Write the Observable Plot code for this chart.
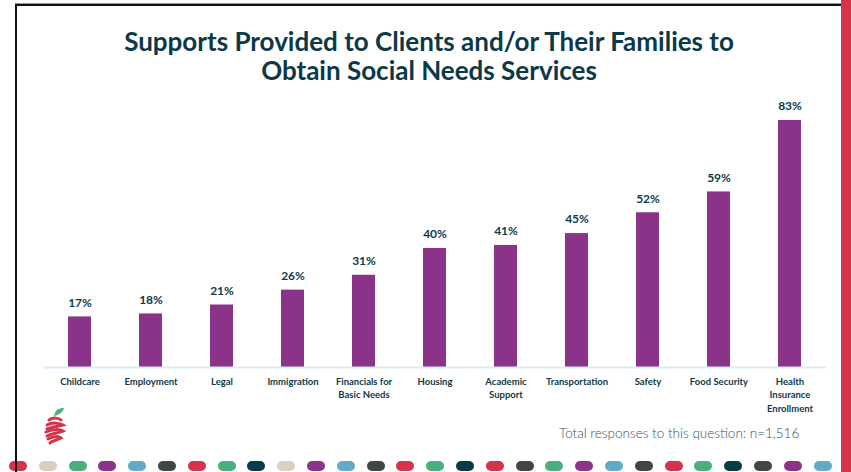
<!DOCTYPE html>
<html>
<head>
<meta charset="utf-8">
<script src="https://cdn.jsdelivr.net/npm/d3@7"></script>
<script src="https://cdn.jsdelivr.net/npm/@observablehq/plot@0.6"></script>
<style>
  html, body { margin: 0; padding: 0; background: #fff; }
  #slide { position: relative; width: 851px; height: 472px; overflow: hidden; background: #fff; font-family: Lato, "Open Sans", sans-serif; }
  #topline { position: absolute; left: 15px; top: 4px; width: 826px; height: 2px; background: #111; box-shadow: 0 -1px 0 #999; }
  #leftline { position: absolute; left: 15px; top: 4px; width: 2px; height: 468px; background: #111; }
  #redstrip { position: absolute; left: 841px; top: 0; width: 10px; height: 472px; background: #d3344a; }
  #title { position: absolute; left: 17px; width: 824px; top: 27px; text-align: center; font-weight: 700; font-size: 26px; line-height: 29px; color: #0c3848; white-space: nowrap; }
  #chart { position: absolute; left: 0; top: 90px; }
  #footer { position: absolute; left: 559px; top: 425px; font-size: 13.5px; font-weight: 300; color: #2f5361; white-space: nowrap; }
  .dot { position: absolute; top: 461px; width: 18px; height: 10px; border-radius: 5px; }
  #logo { position: absolute; left: 40px; top: 405px; }
</style>
</head>
<body>
<div id="slide">
  <div id="title">Supports Provided to Clients and/or Their Families to<br>Obtain Social Needs Services</div>
  <div id="chart"></div>
  <div id="footer">Total responses to this question: n=1,516</div>
  <svg id="logo" width="30" height="45" viewBox="0 0 30 45">
    <path d="M14 11 C15 5 19 3 24 3 C22 8 19 10 14 11 Z" fill="#4aaf7d"/>
    <g fill="none" stroke="#d3344a" stroke-width="3" stroke-linecap="round">
      <path d="M9 15 C13 12 19 13 21 15"/>
      <path d="M7 20 C12 17 20 18 23 20 C18 21 12 22 7 24"/>
      <path d="M6 27 C12 24 20 24 23 26 C18 28 11 29 7 31"/>
      <path d="M8 34 C13 31 19 31 21 33 C17 35 12 36 10 38"/>
    </g>
  </svg>
  <div id="topline"></div>
  <div id="leftline"></div>
  <div id="redstrip"></div>
</div>
<script>
const categories = ["Childcare", "Employment", "Legal", "Immigration", "Financials for\nBasic Needs", "Housing", "Academic\nSupport", "Transportation", "Safety", "Food Security", "Health\nInsurance\nEnrollment"];
const values = [17, 18, 21, 26, 31, 40, 41, 45, 52, 59, 83];
const dotColors = ["#d3344a", "#d9d0c1", "#4aaf7d", "#8a3389", "#63a9c8", "#404548", "#d3344a", "#4aaf7d", "#0b3a4b", "#d9d0c1", "#8a3389", "#63a9c8", "#404548", "#d3344a", "#4aaf7d", "#0b3a4b", "#d3344a", "#404548", "#4aaf7d", "#8a3389", "#63a9c8", "#404548", "#d3344a", "#4aaf7d", "#0b3a4b", "#404548", "#8a3389", "#63a9c8"];

const data = categories.map((c, i) => ({category: c, value: values[i]}));

const chart = Plot.plot({
  width: 851,
  height: 340,
  marginLeft: 44,
  marginRight: 25,
  marginTop: 0,
  marginBottom: 63,
  style: {fontFamily: "Lato, 'Open Sans', sans-serif", background: "transparent", overflow: "visible"},
  x: {domain: categories, paddingInner: 0.675, paddingOuter: 0.3375, label: null},
  y: {domain: [0, 83], range: [277, 30], axis: null},
  marks: [
    Plot.barY(data, {x: "category", y: "value", fill: "#8a3389"}),
    Plot.ruleY([0], {stroke: "#d8eef8", strokeWidth: 2}),
    Plot.text(data, {x: "category", y: "value", text: d => d.value + "%", dy: -14, fontWeight: 700, fontSize: 12, fill: "#0e3a4a"}),
    Plot.axisX({tickSize: 0, tickPadding: 8, fontSize: 9.5, fontWeight: 700, fill: "#0e3a4a", lineHeight: 1.4, label: null})
  ]
});
document.getElementById("chart").appendChild(chart);

const slide = document.getElementById("slide");
dotColors.forEach((c, i) => {
  const d = document.createElement("div");
  d.className = "dot";
  d.style.left = (9 + i * 29.8) + "px";
  d.style.background = c;
  slide.insertBefore(d, document.getElementById("leftline"));
});
</script>
</body>
</html>
